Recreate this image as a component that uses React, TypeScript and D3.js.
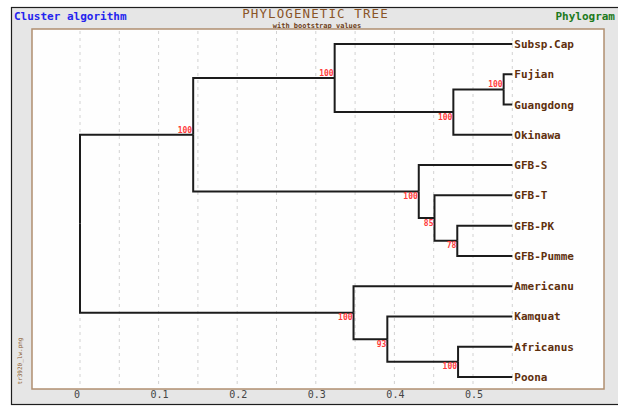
import React from 'react';
import * as d3 from 'd3';

// leaves, top to bottom
const leafNames = [
  'Subsp.Cap', 'Fujian', 'Guangdong', 'Okinawa',
  'GFB-S', 'GFB-T', 'GFB-PK', 'GFB-Pumme',
  'Americanu', 'Kamquat', 'Africanus', 'Poona',
];
const leafDepth = 0.55;

// internal clades: id, children, distance from root, bootstrap
const cladeIds = ['root', 'A', 'B', 'C', 'D', 'E', 'F', 'G', 'H', 'I', 'J'];
const cladeChildren = [
  ['A', 'H'],
  ['B', 'E'],
  ['Subsp.Cap', 'C'],
  ['D', 'Okinawa'],
  ['Fujian', 'Guangdong'],
  ['GFB-S', 'F'],
  ['GFB-T', 'G'],
  ['GFB-PK', 'GFB-Pumme'],
  ['Americanu', 'I'],
  ['Kamquat', 'J'],
  ['Africanus', 'Poona'],
];
const cladeDepths = [0, 0.144, 0.324, 0.475, 0.539, 0.431, 0.451, 0.48, 0.348, 0.391, 0.481];
const bootstrap = [null, 100, 100, 100, 100, 100, 85, 78, 100, 93, 100];

const xTickValues = [0, 0.1, 0.2, 0.3, 0.4, 0.5];

const W = 618;
const H = 407;
const plot = { left: 32, top: 29, right: 604, bottom: 389 };
const mono = '"DejaVu Sans Mono", "Liberation Mono", monospace';

type TreeNode = { id: string; children?: TreeNode[] };

const buildTree = (id: string): TreeNode => {
  const i = cladeIds.indexOf(id);
  if (i < 0) return { id };
  return { id, children: cladeChildren[i].map(buildTree) };
};

export default function App() {
  const root = d3.hierarchy<TreeNode>(buildTree('root'));

  const x = d3.scaleLinear().domain([0, 0.55]).range([80, 512.3]);
  const yLeaf = d3.scalePoint<string>().domain(leafNames).range([44, 377]);

  // depth (x) from branch lengths, y from leaf order, parents centred on children
  const pos = new Map<any, { x: number; y: number }>();
  root.eachAfter((n: any) => {
    const i = cladeIds.indexOf(n.data.id);
    const px = i < 0 ? x(leafDepth) : x(cladeDepths[i]);
    const py = n.children
      ? (d3.mean(n.children, (c: any) => pos.get(c)!.y) as number)
      : (yLeaf(n.data.id) as number);
    pos.set(n, { x: px, y: py });
  });

  const links = root.links();
  const grid = x.ticks(11);

  return (
    <div style={{ position: 'absolute', left: 0, top: 0 }}>
      <svg width={W} height={H} style={{ display: 'block', background: '#fff' }}>
        {/* outer panel */}
        <rect x={11.5} y={7.5} width={620} height={397} fill="#e6e6e6" stroke="#1e1e1e" strokeWidth={1.2} />

        <text x={14} y={20} fontFamily={mono} fontSize={11} fontWeight="bold" fill="#2424ee">
          Cluster algorithm
        </text>
        <text x={615} y={20} textAnchor="end" fontFamily={mono} fontSize={11} fontWeight="bold" fill="#1c7a1c">
          Phylogram
        </text>
        <text x={315.5} y={18} textAnchor="middle" fontFamily={mono} fontSize={12.5} letterSpacing={1.1} fill="#8a5426">
          PHYLOGENETIC TREE
        </text>
        <text x={317} y={27.5} textAnchor="middle" fontFamily={mono} fontSize={7} fontWeight="bold" fill="#6e3f18">
          with bootstrap values
        </text>

        {/* plot frame */}
        <rect
          x={plot.left}
          y={plot.top}
          width={plot.right - plot.left}
          height={plot.bottom - plot.top}
          fill="#fefefe"
          stroke="#b08f70"
          strokeWidth={1.5}
        />

        {/* dashed grid */}
        {grid.map((t) => (
          <line
            key={t}
            x1={x(t)}
            x2={x(t)}
            y1={plot.top + 2}
            y2={plot.bottom - 2}
            stroke="#d2d2d2"
            strokeDasharray="3,4"
          />
        ))}

        {/* x tick labels */}
        {xTickValues.map((t) => (
          <text key={t} x={x(t) - (t === 0 ? 3 : -1)} y={398} textAnchor="middle" fontFamily={mono} fontSize={10} fill="#444">
            {d3.format('~g')(t)}
          </text>
        ))}

        {/* branches */}
        {links.map((l: any, i) => {
          const s = pos.get(l.source)!;
          const t = pos.get(l.target)!;
          return (
            <path
              key={i}
              d={`M${s.x},${s.y}V${t.y}H${t.x}`}
              fill="none"
              stroke="#1c1c1c"
              strokeWidth={2}
            />
          );
        })}

        {/* bootstrap values */}
        {root.descendants().map((n: any, i) => {
          const ci = cladeIds.indexOf(n.data.id);
          if (ci < 0 || bootstrap[ci] == null) return null;
          const p = pos.get(n)!;
          const upper = n.parent && n.parent.children[0] === n;
          return (
            <text
              key={i}
              x={p.x - 1}
              y={upper ? p.y - 2 : p.y + 7.5}
              textAnchor="end"
              fontFamily={mono}
              fontSize={8}
              fontWeight="bold"
              fill="#ff3b3b"
            >
              {bootstrap[ci]}
            </text>
          );
        })}

        {/* leaf labels */}
        {root.leaves().map((n: any) => {
          const p = pos.get(n)!;
          return (
            <text
              key={n.data.id}
              x={p.x + 2}
              y={p.y + 4}
              fontFamily={mono}
              fontSize={11}
              fontWeight="bold"
              fill="#5e300e"
            >
              {n.data.id}
            </text>
          );
        })}

        {/* file tag */}
        <text
          transform="translate(22,361) rotate(-90)"
          textAnchor="middle"
          fontFamily={mono}
          fontSize={6}
          fill="#8a5a2e"
        >
          tr3920_lw.png
        </text>
      </svg>
    </div>
  );
}
